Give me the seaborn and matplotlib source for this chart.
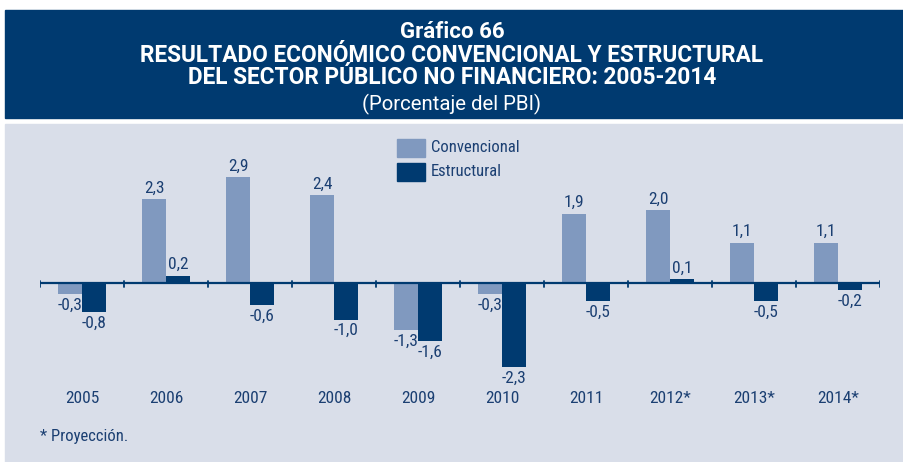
import matplotlib
matplotlib.use("Agg")
import matplotlib.pyplot as plt
from matplotlib.patches import Rectangle
import seaborn as sns
import pandas as pd

years = ["2005", "2006", "2007", "2008", "2009", "2010", "2011", "2012*", "2013*", "2014*"]
convencional = [-0.3, 2.3, 2.9, 2.4, -1.3, -0.3, 1.9, 2.0, 1.1, 1.1]
estructural = [-0.8, 0.2, -0.6, -1.0, -1.6, -2.3, -0.5, 0.1, -0.5, -0.2]
series_names = ["Convencional", "Estructural"]

NAVY = "#003a70"
LIGHT = "#8099bf"
PANEL = "#d9dee9"
TEXT = "#1b3f72"

sns.set_theme(style="white")
plt.rcParams["font.family"] = ["Roboto Condensed", "DejaVu Sans"]
WIDE = ["Roboto", "DejaVu Sans"]

df = pd.DataFrame({
    "Año": years * 2,
    "Serie": [series_names[0]] * len(years) + [series_names[1]] * len(years),
    "Valor": convencional + estructural,
})

W, H = 904, 462
fig = plt.figure(figsize=(W / 100, H / 100), dpi=100)
fig.patch.set_facecolor("white")

# header band and chart panel
fig.patches.append(Rectangle((5 / W, (H - 118) / H), 1 - 5 / W, 108 / H,
                             transform=fig.transFigure, color=NAVY, zorder=-10))
fig.patches.append(Rectangle((5 / W, 0), 1 - 5 / W, (H - 124) / H,
                             transform=fig.transFigure, color=PANEL, zorder=-10))

title_lines = [
    ("Gráfico 66", 38, 16, "bold"),
    ("RESULTADO ECONÓMICO CONVENCIONAL Y ESTRUCTURAL", 62, 16.3, "bold"),
    ("DEL SECTOR PÚBLICO NO FINANCIERO: 2005-2014", 84, 16.3, "bold"),
    ("(Porcentaje del PBI)", 110, 14.7, "normal"),
]
for txt, base_px, size, weight in title_lines:
    fig.text(0.5, (H - base_px) / H, txt, color="white", fontsize=size,
             fontweight=weight, family=WIDE, ha="center", va="baseline")

# plot area
zero_px, top_px, bot_px = 283, 135, 385
scale = 36.5
ax = fig.add_axes([40 / W, (H - bot_px) / H, 840 / W, (bot_px - top_px) / H])
ax.set_facecolor("none")

sns.barplot(data=df, x="Año", y="Valor", hue="Serie", order=years,
            hue_order=series_names, palette=[LIGHT, NAVY], width=0.57,
            saturation=1, linewidth=0, ax=ax, legend=False, zorder=2)

ax.set_xlim(-0.5, len(years) - 0.5)
ax.set_ylim(-(bot_px - zero_px) / scale, (zero_px - top_px) / scale)

ax.axhline(0, color=NAVY, lw=1.6, zorder=3)
for b in range(len(years) + 1):
    ax.plot([b - 0.5, b - 0.5], [0.06, -0.11], color=NAVY, lw=1.3, zorder=3)

for spine in ax.spines.values():
    spine.set_visible(False)
ax.set_yticks([])
ax.set_xlabel("")
ax.set_ylabel("")
ax.tick_params(axis="x", length=0, pad=4, labelsize=12.5, labelcolor=TEXT)

# value labels
for container in ax.containers:
    for bar in container:
        v = bar.get_height()
        xc = bar.get_x() + bar.get_width() / 2
        txt = f"{v:.1f}".replace(".", ",")
        if v >= 0:
            ax.text(xc, v + 0.1, txt, ha="center", va="bottom", fontsize=12.5, color=TEXT)
        else:
            ax.text(xc, v - 0.1, txt, ha="center", va="top", fontsize=12.5, color=TEXT)

# legend
for i, (name, col) in enumerate(zip(series_names, [LIGHT, NAVY])):
    y0 = 139 + i * 24
    fig.patches.append(Rectangle((397 / W, (H - y0 - 18) / H), 28 / W, 18 / H,
                                 transform=fig.transFigure, color=col, zorder=3))
    fig.text(431 / W, (H - y0 - 9) / H, name, color=TEXT, fontsize=12,
             ha="left", va="center")

fig.text(40 / W, (H - 437) / H, "* Proyección.", color=TEXT, fontsize=12,
         ha="left", va="center")

fig.savefig("out.png", dpi=100)
